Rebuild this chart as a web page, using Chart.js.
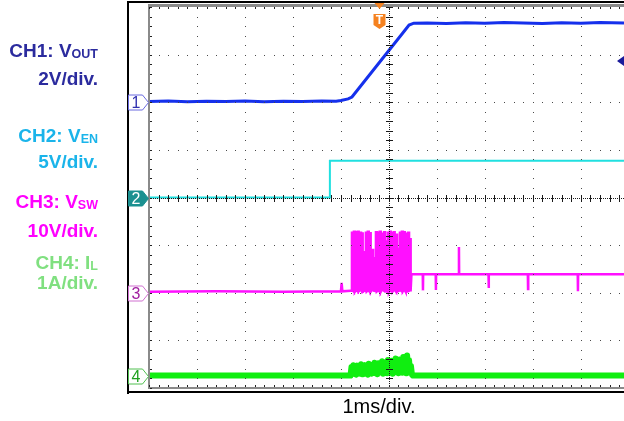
<!DOCTYPE html>
<html lang="en">
<head>
    <meta charset="UTF-8">
    <title>Start-up waveforms</title>
    <script src="https://cdn.jsdelivr.net/npm/chart.js"></script>
    <style>
        body {
            margin: 0;
            background: #fff;
            overflow: hidden;
        }
        .wrap {
            position: relative;
            width: 624px;
            height: 421px;
        }
        .lbl {
            position: absolute;
            left: 0;
            width: 98px;
            text-align: right;
            white-space: nowrap;
            font-family: "Liberation Sans", Arial, sans-serif;
            font-weight: bold;
            font-size: 19px;
            line-height: 1;
        }
        .lbl span {
            font-size: 12.5px;
            vertical-align: -1px;
        }
        .ch1 { color: #2b2b9e; }
        .ch2 { color: #1ab4ea; }
        .ch3 { color: #ff00ff; }
        .ch4 { color: #80e080; }
        .timebase {
            position: absolute;
            left: 279px;
            width: 200px;
            top: 396px;
            text-align: center;
            font-family: "Liberation Sans", Arial, sans-serif;
            font-size: 20px;
            line-height: 1;
            color: #000;
        }
    </style>
</head>
<body>
<div class="wrap">
    <canvas id="scope" width="624" height="421"></canvas>

    <div class="lbl ch1" style="top:41px">CH1: V<span>OUT</span></div>
    <div class="lbl ch1" style="top:69px">2V/div.</div>
    <div class="lbl ch2" style="top:126px">CH2: V<span>EN</span></div>
    <div class="lbl ch2" style="top:152px">5V/div.</div>
    <div class="lbl ch3" style="top:192px">CH3: V<span>SW</span></div>
    <div class="lbl ch3" style="top:221px">10V/div.</div>
    <div class="lbl ch4" style="top:253px">CH4: I<span>L</span></div>
    <div class="lbl ch4" style="top:273px">1A/div.</div>
    <div class="timebase">1ms/div.</div>
</div>

<script>
    // time axis in ms (trigger at 0), screen is 10 div wide, right edge cut off
    const timeMin = -5;
    const timeMax = 4.9;
    const divMin = -4;
    const divMax = 4;

    // channel settings: volts (amps) per division and ground offset in divisions
    const chScale = [2, 5, 10, 1];
    const chOffset = [2, 0, -2, -3.74];

    // CH1: Vout
    const ch1Time = [-5, -4.6, -4.2, -3.8, -3.4, -3.0, -2.6, -2.2, -1.8, -1.4, -1.1, -1.0, -0.85, -0.77,
                     0.31, 0.42, 0.52, 0.8, 1.2, 1.6, 2.0, 2.4, 2.8, 3.2, 3.6, 4.0, 4.4, 4.9];
    const ch1Value = [0.03, 0.05, 0.02, 0.04, 0.03, 0.05, 0.02, 0.04, 0.03, 0.05, 0.04, 0.07, 0.14, 0.22,
                      2.96, 3.24, 3.32, 3.33, 3.31, 3.34, 3.32, 3.35, 3.33, 3.31, 3.34, 3.32, 3.35, 3.33];

    // CH2: EN
    const ch2Time = [-5, -1.23, -1.23, 4.9];
    const ch2Value = [0, 0, 3.85, 3.85];

    // CH3: SW node, before the burst
    const ch3PreTime = [-5, -3.6, -2.2, -1.0, -0.985, -0.97, -0.8];
    const ch3PreValue = [0.2, 0.3, 0.2, 0.3, 2.1, 0.3, 0.4];
    // switching burst during soft start
    const ch3PulseTime = [-0.77, -0.73, -0.69, -0.65, -0.60, -0.56, -0.52, -0.48, -0.44, -0.40,
                          -0.35, -0.31, -0.27, -0.23, -0.19, -0.15, -0.10, -0.06, -0.02, 0.02,
                          0.06, 0.10, 0.15, 0.19, 0.23, 0.27, 0.31, 0.35, 0.40, 0.44];
    const ch3PulsePeak = [12.6, 12.8, 12.7, 12.8, 12.6, 12.7, 8.5, 12.6, 12.8, 12.5,
                          9.0, 7.5, 12.7, 12.6, 12.8, 12.4, 12.7, 11.0, 12.6, 12.8,
                          12.5, 12.7, 12.2, 9.5, 12.6, 12.8, 12.7, 12.4, 12.6, 11.5];
    const ch3PulseLow = [0.4, 0.2, 0.5, 0.3, 0.6, 0.2, 0.4, 0.3, 0.5, 0.2,
                         0.6, 0.4, 0.3, 0.5, 0.2, 0.6, 0.4, 0.3, 0.1, 0.5,
                         0.3, 0.6, 0.2, 0.4, 0.5, 0.3, 0.6, 0.2, 0.4, 0.5];
    // after the burst: settled level with a few glitches
    const ch3SettleTime = [0.47, 4.9];
    const ch3SettleLevel = 3.9;
    const ch3GlitchTime = [0.71, 0.98, 1.46, 2.08, 2.90, 3.94];
    const ch3GlitchValue = [0.5, 0.6, 9.6, 1.0, 0.8, 0.3];

    // CH4: inductor current, flat parts
    const ch4PreTime = [-5, -3.5, -2.0, -0.8];
    const ch4PostTime = [0.5, 1.5, 3.0, 4.9];
    const ch4Base = 0;
    // ripple during the burst: high/low pairs
    const ch4BumpTime = [-0.78, -0.74, -0.70, -0.66, -0.62, -0.58, -0.54, -0.50, -0.46, -0.42,
                         -0.38, -0.34, -0.30, -0.26, -0.22, -0.18, -0.14, -0.10, -0.06, -0.02,
                         0.02, 0.06, 0.10, 0.14, 0.18, 0.22, 0.26, 0.30, 0.34, 0.38, 0.42, 0.46];
    const ch4BumpHigh = [0.18, 0.22, 0.15, 0.21, 0.19, 0.24, 0.16, 0.22, 0.20, 0.25,
                         0.18, 0.23, 0.27, 0.21, 0.26, 0.24, 0.30, 0.22, 0.28, 0.33,
                         0.25, 0.31, 0.29, 0.36, 0.27, 0.34, 0.31, 0.39, 0.30, 0.42, 0.33, 0.20];
    const ch4BumpLow = [0.03, 0.05, 0.02, 0.06, 0.04, 0.03, 0.07, 0.05, 0.02, 0.06,
                        0.04, 0.08, 0.05, 0.03, 0.07, 0.06, 0.04, 0.08, 0.05, 0.09,
                        0.06, 0.04, 0.08, 0.07, 0.05, 0.09, 0.06, 0.08, 0.05, 0.07, 0.06, 0.02];

    // trigger position (ms) and level (V on CH1)
    const trigTime = -0.2;
    const trigLevel = 1.73;

    function toDiv(ch, v) {
        return chOffset[ch] + v / chScale[ch];
    }

    function pairs(ch, times, values) {
        return times.map((t, i) => ({x: t, y: toDiv(ch, values[i])}));
    }

    function buildCh3() {
        const pts = pairs(2, ch3PreTime, ch3PreValue);
        ch3PulseTime.forEach((t, i) => {
            pts.push({x: t, y: toDiv(2, ch3PulseLow[i])});
            pts.push({x: t, y: toDiv(2, ch3PulsePeak[i])});
            pts.push({x: t + 0.02, y: toDiv(2, ch3PulsePeak[i])});
            pts.push({x: t + 0.02, y: toDiv(2, ch3PulseLow[i])});
        });
        pts.push({x: ch3SettleTime[0], y: toDiv(2, ch3SettleLevel)});
        ch3GlitchTime.forEach((t, i) => {
            pts.push({x: t - 0.004, y: toDiv(2, ch3SettleLevel)});
            pts.push({x: t, y: toDiv(2, ch3GlitchValue[i])});
            pts.push({x: t + 0.004, y: toDiv(2, ch3SettleLevel)});
        });
        pts.push({x: ch3SettleTime[1], y: toDiv(2, ch3SettleLevel)});
        return pts;
    }

    function buildCh4() {
        const pts = ch4PreTime.map(t => ({x: t, y: toDiv(3, ch4Base)}));
        ch4BumpTime.forEach((t, i) => {
            pts.push({x: t, y: toDiv(3, ch4BumpHigh[i])});
            pts.push({x: t + 0.02, y: toDiv(3, ch4BumpLow[i])});
        });
        ch4PostTime.forEach(t => pts.push({x: t, y: toDiv(3, ch4Base)}));
        return pts;
    }

    // scope graticule, frame, channel and trigger markers
    const scopeScreen = {
        id: 'scopeScreen',
        afterDatasetsDraw(chart) {
            const {ctx, chartArea: a, scales: {x, y}} = chart;
            ctx.save();

            // dotted graticule
            ctx.fillStyle = '#4a4a4a';
            for (let gx = -4; gx <= 4; gx++) {
                if (gx === 0) continue;
                const px = Math.round(x.getPixelForValue(gx));
                for (let k = 0; k <= 40; k++) {
                    ctx.fillRect(px, Math.round(y.getPixelForValue(divMin + k * 0.2)), 1, 1);
                }
            }
            for (let gy = -3; gy <= 3; gy++) {
                if (gy === 0) continue;
                const py = Math.round(y.getPixelForValue(gy));
                for (let k = 0; k <= 50; k++) {
                    const px = Math.round(x.getPixelForValue(timeMin + k * 0.2));
                    if (px < a.right) ctx.fillRect(px, py, 1, 1);
                }
            }

            // centre cross
            ctx.fillStyle = '#1a1a1a';
            const cx = Math.round(x.getPixelForValue(0));
            const cy = Math.round(y.getPixelForValue(0));
            for (let py = a.top; py < a.bottom; py += 2) ctx.fillRect(cx, py, 1, 1);
            for (let px = a.left; px < a.right; px += 2) ctx.fillRect(px, cy, 1, 1);
            for (let k = 0; k <= 40; k++) {
                ctx.fillRect(cx - 3, Math.round(y.getPixelForValue(divMin + k * 0.2)), 7, 1);
            }
            for (let k = 0; k <= 50; k++) {
                const px = Math.round(x.getPixelForValue(timeMin + k * 0.2));
                if (px < a.right) ctx.fillRect(px, cy - 3, 1, 7);
            }

            // grey border of the screen
            ctx.fillStyle = '#8a8a8a';
            ctx.fillRect(a.left - 1, a.top - 3, 2, a.bottom - a.top + 4);
            ctx.fillRect(a.left, a.top - 3, a.right - a.left, 3);
            ctx.fillRect(a.left, a.bottom - 1, a.right - a.left, 2);

            // border ticks
            ctx.fillStyle = '#222';
            for (let k = 0; k <= 40; k++) {
                const py = Math.round(y.getPixelForValue(divMin + k * 0.2));
                ctx.fillRect(a.left + 1, py, 2, 1);
            }
            for (let k = 0; k <= 50; k++) {
                const px = Math.round(x.getPixelForValue(timeMin + k * 0.2));
                if (px >= a.right) continue;
                ctx.fillRect(px, a.top, 1, 2);
                ctx.fillRect(px, a.bottom - 3, 1, 2);
            }

            // black outer frame
            ctx.fillStyle = '#000';
            ctx.fillRect(127, 1, 2, 393);
            ctx.fillRect(127, 1, chart.width - 127, 2);
            ctx.fillRect(127, 391, chart.width - 127, 2);

            // channel ground markers
            const marks = [
                {n: '1', fill: '#fff', line: '#6a6ae0', text: '#3030b0'},
                {n: '2', fill: '#1b9090', line: '#1b9090', text: '#fff'},
                {n: '3', fill: '#fff', line: '#d070d0', text: '#a020a0'},
                {n: '4', fill: '#fff', line: '#50c050', text: '#20a020'}
            ];
            marks.forEach((m, i) => {
                const my = Math.round(y.getPixelForValue(chOffset[i])) + 0.5;
                ctx.beginPath();
                ctx.moveTo(128.5, my - 7.5);
                ctx.lineTo(142.5, my - 7.5);
                ctx.lineTo(148.5, my);
                ctx.lineTo(142.5, my + 7.5);
                ctx.lineTo(128.5, my + 7.5);
                ctx.closePath();
                ctx.fillStyle = m.fill;
                ctx.fill();
                ctx.strokeStyle = m.line;
                ctx.lineWidth = 1;
                ctx.stroke();
                ctx.fillStyle = m.text;
                ctx.font = '16px "Liberation Sans", Arial, sans-serif';
                ctx.textAlign = 'center';
                ctx.textBaseline = 'middle';
                ctx.fillText(m.n, 136, my + 1);
            });

            // trigger position marker
            const tx = Math.round(x.getPixelForValue(trigTime)) + 0.5;
            ctx.fillStyle = '#f58220';
            ctx.beginPath();
            ctx.moveTo(tx - 5, 3);
            ctx.lineTo(tx + 5, 3);
            ctx.lineTo(tx, 9);
            ctx.closePath();
            ctx.fill();
            ctx.beginPath();
            ctx.moveTo(tx - 6, 14);
            ctx.lineTo(tx + 6, 14);
            ctx.lineTo(tx + 6, 25);
            ctx.lineTo(tx, 29);
            ctx.lineTo(tx - 6, 25);
            ctx.closePath();
            ctx.fill();
            ctx.fillStyle = '#fff';
            ctx.font = 'bold 12px "Liberation Sans", Arial, sans-serif';
            ctx.textAlign = 'center';
            ctx.textBaseline = 'middle';
            ctx.fillText('T', tx, 21);

            // trigger level marker on the right edge
            const ly = y.getPixelForValue(toDiv(0, trigLevel));
            ctx.fillStyle = '#1a1a9a';
            ctx.beginPath();
            ctx.moveTo(a.right - 7, ly);
            ctx.lineTo(a.right, ly - 5);
            ctx.lineTo(a.right, ly + 5);
            ctx.closePath();
            ctx.fill();

            ctx.restore();
        }
    };

    new Chart(document.getElementById('scope'), {
        type: 'line',
        data: {
            datasets: [
                {label: 'CH1', data: pairs(0, ch1Time, ch1Value), borderColor: '#1530ec', borderWidth: 3},
                {label: 'CH2', data: pairs(1, ch2Time, ch2Value), borderColor: '#20e0e0', borderWidth: 2},
                {label: 'CH3', data: buildCh3(), borderColor: '#ff10ff', borderWidth: 2.5},
                {label: 'CH4', data: buildCh4(), borderColor: '#10ee10', borderWidth: 6, borderJoinStyle: 'round'}
            ]
        },
        options: {
            responsive: false,
            animation: false,
            devicePixelRatio: 1,
            layout: {padding: {left: 149, top: 7, right: 0, bottom: 33}},
            elements: {point: {radius: 0}, line: {tension: 0, borderJoinStyle: 'miter'}},
            plugins: {legend: {display: false}, tooltip: {enabled: false}},
            scales: {
                x: {type: 'linear', display: false, min: timeMin, max: timeMax},
                y: {type: 'linear', display: false, min: divMin, max: divMax}
            }
        },
        plugins: [scopeScreen]
    });
</script>
</body>
</html>
